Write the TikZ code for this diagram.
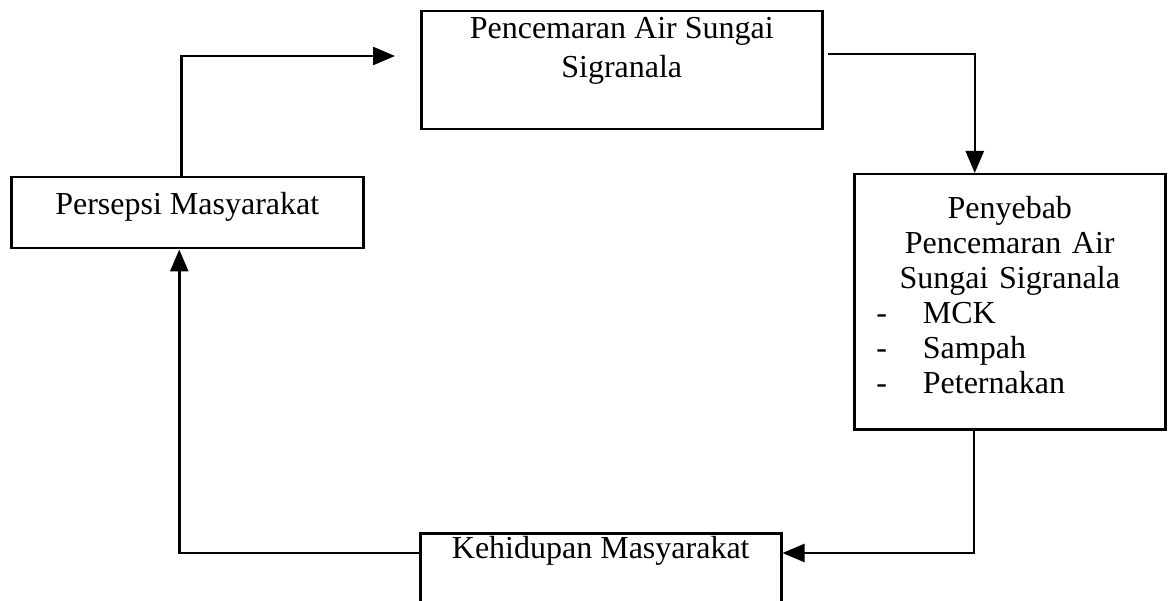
\documentclass[tikz,border=0pt]{standalone}
\usepackage{fontspec}
\setmainfont{Liberation Serif}
\usetikzlibrary{arrows.meta}

\tikzset{
  box/.style={draw,line width=2.5pt,inner sep=0pt,anchor=north west,
    font=\fontsize{32}{39}\selectfont},
  flow/.style={line width=2.5pt,-{Triangle[length=22pt,width=18pt]}}
}

\begin{document}
\begin{tikzpicture}[x=1pt,y=-1pt]
\clip (0,0) rectangle (1170,601);
\path (420,10) node (pencemaran) [box,minimum width=401pt,align=center,
  text height=66pt,text depth=52pt] {Pencemaran Air Sungai\\Sigranala};
\path (10,176) node (persepsi) [box,minimum width=352pt,
  text height=37pt,text depth=34pt] {Persepsi Masyarakat};
\path (853,173) node (penyebab) [box,minimum width=311pt,text width=301pt,
  align=left,text height=44pt,text depth=211pt,
  font=\fontsize{32}{35}\selectfont]
  {\makebox[301pt]{Penyebab}\\
   \makebox[301pt]{Pencemaran Air}\\
   \makebox[301pt]{Sungai Sigranala}\\
   \hspace*{17pt}-\hspace{36pt}MCK\\
   \hspace*{17pt}-\hspace{36pt}Sampah\\
   \hspace*{17pt}-\hspace{36pt}Peternakan};
\path (419,532) node (kehidupan) [box,minimum width=361pt,
  text height=25pt,text depth=70pt] {Kehidupan Masyarakat};

\coordinate (toleft) at (395,56);
\coordinate (fromtop) at (828,54);

\draw [flow] ([xshift=-6pt]persepsi.north) |- (toleft);
\draw [flow] (fromtop) -| ([xshift=-35pt]penyebab.north);
\draw [flow] ([xshift=-36pt]penyebab.south) |- ([yshift=-21pt]kehidupan.north east);
\draw [flow] ([yshift=-21pt]kehidupan.north west) -| ([xshift=-8pt]persepsi.south);
\end{tikzpicture}
\end{document}
